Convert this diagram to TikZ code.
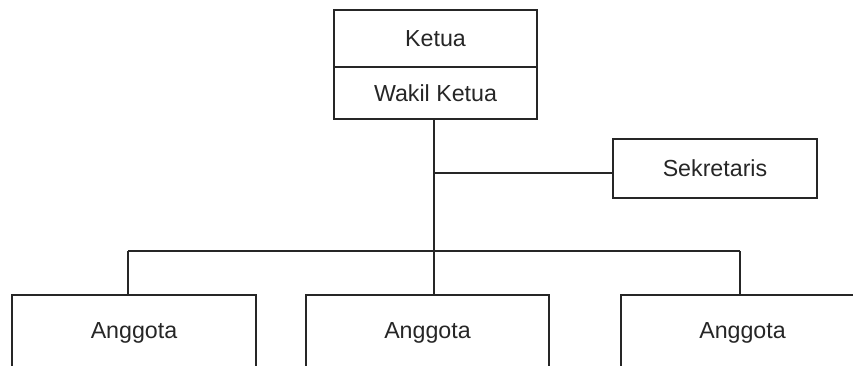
\documentclass[tikz,border=0pt]{standalone}
\usepackage{fontspec}
\setmainfont{Liberation Sans}
\begin{document}
\begin{tikzpicture}[x=1bp,y=-1bp,
  box/.style={draw=black!85,line width=1.4bp,rectangle,inner sep=0pt,text=black!85,
    font=\fontsize{23.3}{27}\selectfont},
  conn/.style={draw=black!85,line width=1.4bp}]
\useasboundingbox (0,0) rectangle (853,365);
\clip (0,0) rectangle (853,365);
\node[box,minimum width=203bp,minimum height=57bp] (ketua) at (435.5,38.5) {Ketua};
\node[box,minimum width=203bp,minimum height=52bp] (wakil) at (435.5,93) {Wakil Ketua};
\node[box,minimum width=204bp,minimum height=59bp] (sek) at (715,168.5) {Sekretaris};
\node[box,minimum width=244bp,minimum height=75bp] (a1) at (134,332.5) {Anggota};
\node[box,minimum width=243bp,minimum height=75bp] (a2) at (427.5,332.5) {Anggota};
\node[box,minimum width=243bp,minimum height=75bp] (a3) at (742.5,332.5) {Anggota};
\coordinate (js) at (434,173);
\coordinate (bm) at (434,251);
\coordinate (bl) at (128,251);
\coordinate (br) at (740,251);
\draw[conn] (wakil.south -| bm) -- (bm);
\draw[conn] (js) -- (js -| sek.west);
\draw[conn] (bl) -- (br);
\draw[conn] (bl) -- (bl |- a1.north);
\draw[conn] (bm) -- (bm |- a2.north);
\draw[conn] (br) -- (br |- a3.north);
\end{tikzpicture}
\end{document}
